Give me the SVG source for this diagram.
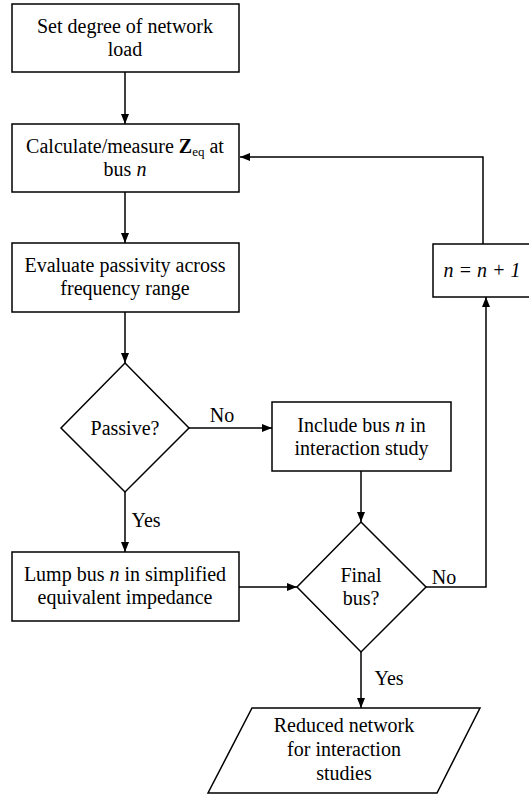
<svg xmlns="http://www.w3.org/2000/svg" width="529" height="795" viewBox="0 0 529 795">
<defs>
<marker id="ah" markerWidth="10" markerHeight="8" refX="10" refY="4" orient="auto" markerUnits="userSpaceOnUse">
<path d="M0,0 L10,4 L0,8 Z" fill="#000"/>
</marker>
<style>
.s{fill:#fff;stroke:#000;stroke-width:1.5}
.t{font-family:Liberation Serif, DejaVu Serif, serif;font-size:20px;fill:#000;text-anchor:middle}
.i{font-style:italic}
.c{fill:none;stroke:#000;stroke-width:1.5;marker-end:url(#ah)}
</style>
</defs>
<rect width="529" height="795" fill="#fff"/>
<g id="connectors">
<path class="c" d="M125,72 V124"/>
<path class="c" d="M125,192 V243"/>
<path class="c" d="M125,312 V363"/>
<path class="c" d="M189,428 H272"/>
<path class="c" d="M125,492 V552"/>
<path class="c" d="M361,471 V522"/>
<path class="c" d="M239,587 H297"/>
<path class="c" d="M361,652 V708"/>
<path class="c" d="M426,587 H486 V297"/>
<path class="c" d="M483,244 V157 H240"/>
<text class="t" x="222" y="422">No</text>
<text class="t" x="146" y="527">Yes</text>
<text class="t" x="444" y="584">No</text>
<text class="t" x="389" y="685">Yes</text>
</g>
<g id="n1">
<rect class="s" x="12" y="4" width="227" height="68"/>
<text class="t" x="125" y="33">Set degree of network</text>
<text class="t" x="125" y="56">load</text>
</g>
<g id="n2">
<rect class="s" x="12" y="124" width="227" height="68"/>
<text class="t" x="125" y="153">Calculate/measure <tspan font-weight="bold">Z</tspan><tspan font-size="13" dy="3">eq</tspan><tspan dy="-3"> at</tspan></text>
<text class="t" x="125" y="176">bus <tspan class="i">n</tspan></text>
</g>
<g id="n3">
<rect class="s" x="12" y="243" width="227" height="69"/>
<text class="t" x="125" y="272">Evaluate passivity across</text>
<text class="t" x="125" y="295">frequency range</text>
</g>
<g id="n4">
<path class="s" d="M125,363 L189,428 L125,492 L61,428 Z"/>
<text class="t" x="125" y="435">Passive?</text>
</g>
<g id="n5">
<rect class="s" x="272" y="402" width="179" height="69"/>
<text class="t" x="361.5" y="432">Include bus <tspan class="i">n</tspan> in</text>
<text class="t" x="361.5" y="455">interaction study</text>
</g>
<g id="n6">
<rect class="s" x="12" y="552" width="227" height="69"/>
<text class="t" x="125" y="581">Lump bus <tspan class="i">n</tspan> in simplified</text>
<text class="t" x="125" y="604">equivalent impedance</text>
</g>
<g id="n7">
<path class="s" d="M361,522 L426,587 L361,652 L297,587 Z"/>
<text class="t" x="361" y="582">Final</text>
<text class="t" x="361" y="605">bus?</text>
</g>
<g id="n8">
<rect class="s" x="433" y="244" width="110" height="53"/>
<text class="t i" x="482" y="277">n = n + 1</text>
</g>
<g id="n9">
<path class="s" d="M252,708 L480,708 L437,793 L208,793 Z"/>
<text class="t" x="344" y="732">Reduced network</text>
<text class="t" x="344" y="756">for interaction</text>
<text class="t" x="344" y="780">studies</text>
</g>
</svg>
